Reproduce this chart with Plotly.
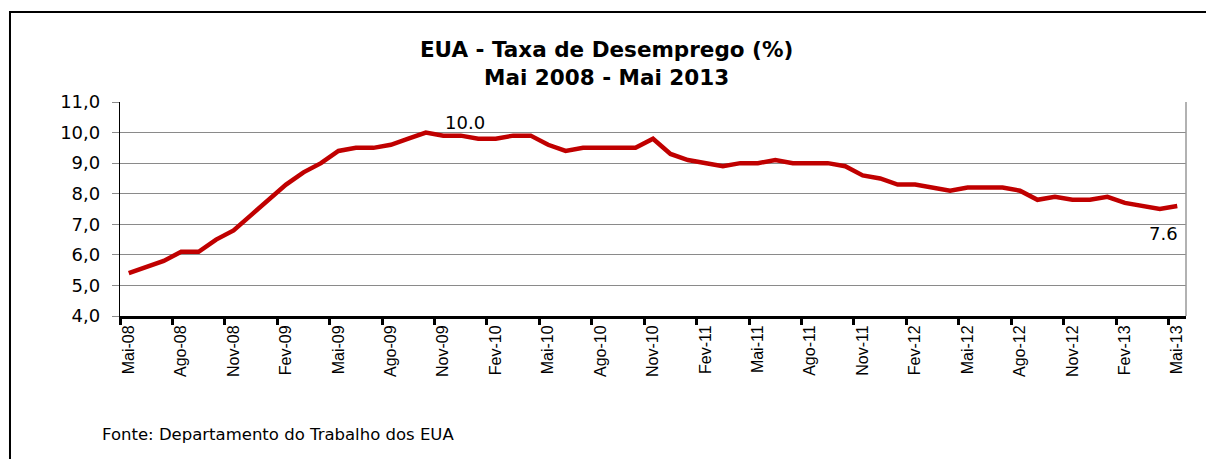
import plotly.graph_objects as go

# ---- data ----
months = [
    "Mai-08", "Jun-08", "Jul-08", "Ago-08", "Set-08", "Out-08", "Nov-08", "Dez-08",
    "Jan-09", "Fev-09", "Mar-09", "Abr-09", "Mai-09", "Jun-09", "Jul-09", "Ago-09",
    "Set-09", "Out-09", "Nov-09", "Dez-09",
    "Jan-10", "Fev-10", "Mar-10", "Abr-10", "Mai-10", "Jun-10", "Jul-10", "Ago-10",
    "Set-10", "Out-10", "Nov-10", "Dez-10",
    "Jan-11", "Fev-11", "Mar-11", "Abr-11", "Mai-11", "Jun-11", "Jul-11", "Ago-11",
    "Set-11", "Out-11", "Nov-11", "Dez-11",
    "Jan-12", "Fev-12", "Mar-12", "Abr-12", "Mai-12", "Jun-12", "Jul-12", "Ago-12",
    "Set-12", "Out-12", "Nov-12", "Dez-12",
    "Jan-13", "Fev-13", "Mar-13", "Abr-13", "Mai-13",
]
rate = [
    5.4, 5.6, 5.8, 6.1, 6.1, 6.5, 6.8, 7.3,
    7.8, 8.3, 8.7, 9.0, 9.4, 9.5, 9.5, 9.6, 9.8, 10.0, 9.9, 9.9,
    9.8, 9.8, 9.9, 9.9, 9.6, 9.4, 9.5, 9.5, 9.5, 9.5, 9.8, 9.3,
    9.1, 9.0, 8.9, 9.0, 9.0, 9.1, 9.0, 9.0, 9.0, 8.9, 8.6, 8.5,
    8.3, 8.3, 8.2, 8.1, 8.2, 8.2, 8.2, 8.1, 7.8, 7.9, 7.8, 7.8,
    7.9, 7.7, 7.6, 7.5, 7.6,
]
tick_labels = ["Mai-08", "Ago-08", "Nov-08", "Fev-09", "Mai-09", "Ago-09", "Nov-09",
               "Fev-10", "Mai-10", "Ago-10", "Nov-10", "Fev-11", "Mai-11", "Ago-11",
               "Nov-11", "Fev-12", "Mai-12", "Ago-12", "Nov-12", "Fev-13", "Mai-13"]
y_ticks = [4, 5, 6, 7, 8, 9, 10, 11]
title_lines = ["EUA - Taxa de Desemprego (%)", "Mai 2008 - Mai 2013"]
source_text = "Fonte: Departamento do Trabalho dos EUA"

FONT = "DejaVu Sans"
XFONT = "Liberation Sans"
x_idx = list(range(len(months)))
tick_pos = [months.index(t) for t in tick_labels]

fig = go.Figure()
fig.add_trace(go.Scatter(
    x=x_idx, y=rate, mode="lines",
    line=dict(color="#C00000", width=4.5),
    hoverinfo="skip", showlegend=False,
))

peak_i = rate.index(max(rate))
last_i = len(rate) - 1
fig.add_annotation(x=peak_i, y=rate[peak_i], text=f"{rate[peak_i]:.1f}", showarrow=False,
                   xanchor="center", yanchor="middle", xshift=39, yshift=10,
                   font=dict(family=FONT, size=18, color="#000"))
fig.add_annotation(x=last_i, y=rate[last_i], text=f"{rate[last_i]:.1f}", showarrow=False,
                   xanchor="center", yanchor="middle", xshift=-14, yshift=-28,
                   font=dict(family=FONT, size=18, color="#000"))
fig.add_annotation(xref="paper", yref="paper", x=-0.0188, y=-0.556, text=source_text,
                   showarrow=False, xanchor="left", yanchor="middle",
                   font=dict(family=FONT, size=16.5, color="#000"))

# outer frame (extends beyond right/bottom edge of the picture)
fig.add_shape(type="rect", xref="paper", yref="paper",
              x0=-0.1032, x1=1.03, y0=-0.75, y1=1.4206,
              line=dict(color="#000", width=2), fillcolor="rgba(0,0,0,0)", layer="above")
# right border of plot area
fig.add_shape(type="line", xref="paper", yref="paper", x0=1, x1=1, y0=0, y1=1,
              line=dict(color="#999", width=1.5), layer="above")

fig.update_layout(
    width=1206, height=459,
    margin=dict(l=120, r=20, t=102, b=143),
    paper_bgcolor="white", plot_bgcolor="white",
    separators=",.",
    font=dict(family=FONT, color="#000"),
    title=dict(text="<b>" + title_lines[0] + "</b><br><b>" + title_lines[1] + "</b>",
               x=0.503, xanchor="center", xref="container",
               y=1 - 57 / 459, yanchor="middle", yref="container",
               font=dict(family=FONT, size=21.5, color="#000")),
    xaxis=dict(
        range=[-0.5, len(months) - 0.5],
        tickmode="array", tickvals=tick_pos, ticktext=tick_labels,
        tickangle=-90, ticks="", showgrid=False, zeroline=False,
        showline=True, linecolor="#000", linewidth=3,
        tickfont=dict(family=XFONT, size=16, color="#000"),
        minor=dict(ticks="outside", tickmode="array",
                   tickvals=[p - 0.5 for p in tick_pos],
                   ticklen=6, tickwidth=3, tickcolor="#000", showgrid=False),
    ),
    yaxis=dict(
        range=[4, 11], tickmode="array", tickvals=y_ticks, tickformat=".1f",
        showgrid=True, gridcolor="#8a8a8a", gridwidth=1.3, zeroline=False,
        showline=True, linecolor="#000", linewidth=1.3,
        ticks="outside", ticklen=7, tickcolor="#8a8a8a", tickwidth=1.3,
        ticklabelstandoff=8,
        tickfont=dict(family=FONT, size=18, color="#000"),
    ),
)

fig.write_html("out.html", config={"displayModeBar": False},
               post_script="document.body.style.margin='0';")
